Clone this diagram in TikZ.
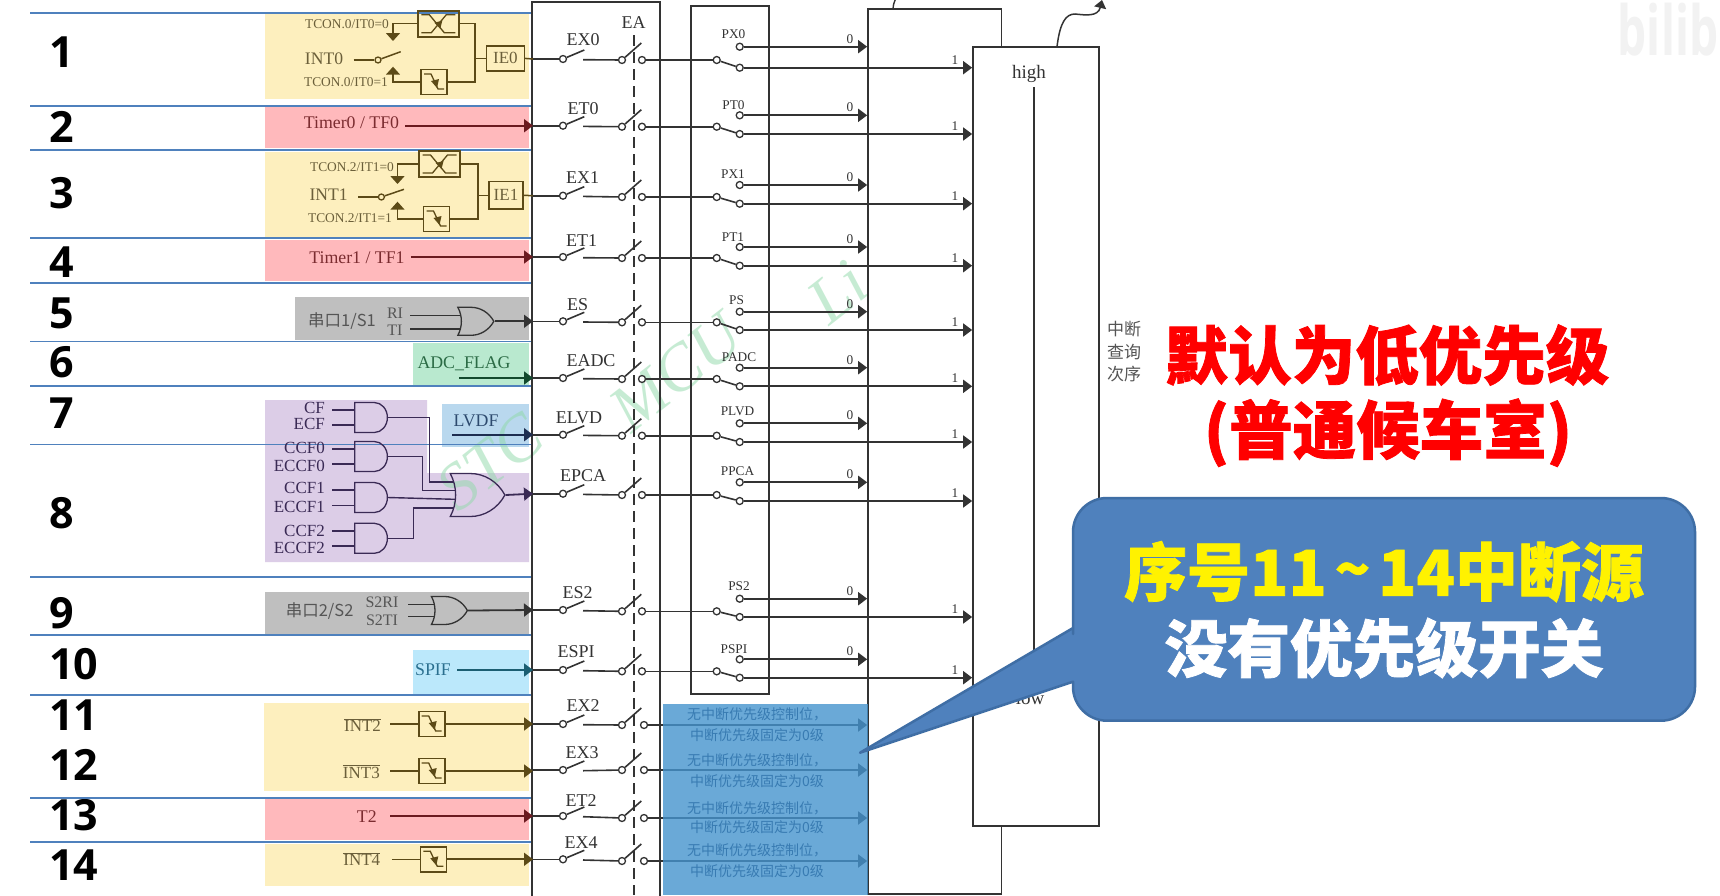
\documentclass[tikz,border=0pt]{standalone}
\usepackage{fontspec}
\setmainfont{Liberation Serif}
\newfontfamily\cjk[BoldFeatures={FakeBold=1.2}]{Noto Sans CJK SC}
\newfontfamily\numfont{Open Sans}
\usetikzlibrary{arrows.meta,shapes.gates.logic.US}
\definecolor{yellowpanel}{HTML}{FDEFBE}
\definecolor{pinkpanel}{HTML}{FFB9BC}
\definecolor{graypanel}{HTML}{BFBFBF}
\definecolor{greenpanel}{HTML}{B9E9CF}
\definecolor{bluepanel}{HTML}{B9D8EE}
\definecolor{purplepanel}{HTML}{DCCDE7}
\definecolor{cyanpanel}{HTML}{BBE8FB}
\definecolor{rowline}{HTML}{4F81BD}
\definecolor{boxline}{HTML}{333333}
\definecolor{olivewire}{HTML}{5C4A17}
\definecolor{olivetext}{HTML}{6B5F3A}
\definecolor{redwire}{HTML}{6B1A1F}
\definecolor{redtext}{HTML}{7B2C30}
\definecolor{greenwire}{HTML}{12492D}
\definecolor{greentext}{HTML}{2B6B45}
\definecolor{navywire}{HTML}{1D2D50}
\definecolor{navytext}{HTML}{2D4A6E}
\definecolor{tealwire}{HTML}{1B5E72}
\definecolor{tealtext}{HTML}{2A6F8F}
\definecolor{purplewire}{HTML}{3A2A55}
\definecolor{graytext}{HTML}{555555}
\definecolor{blockfill}{HTML}{4594CE}
\definecolor{blocktext}{HTML}{387BB2}
\definecolor{calloutfill}{HTML}{4F81BD}
\definecolor{calloutline}{HTML}{3F6EA5}
\definecolor{stamp}{HTML}{8FD9A8}
\definecolor{sitemark}{HTML}{F2F2F2}
\tikzset{
  rownum/.style={anchor=base west,inner sep=0,font=\numfont\bfseries\fontsize{43}{43}\selectfont},
  bigbox/.style={draw=boxline,line width=1.7pt,inner sep=0,fill=white},
  wire/.style={draw=boxline,line width=1.6pt},
  arr/.style={line width=1.8pt,-{Triangle[length=9pt,width=13pt]}},
  swpin/.style={circle,draw=boxline,line width=1.3pt,fill=white,inner sep=0,minimum size=7pt},
  elabel/.style={inner sep=0,text=boxline,font=\fontsize{18}{18}\selectfont},
  plabel/.style={inner sep=0,text=boxline,font=\fontsize{13.3}{14}\selectfont},
  paneltext/.style={inner sep=6pt,font=\fontsize{17.8}{18}\selectfont},
  tcontext/.style={inner sep=0,text=olivetext,font=\fontsize{13.4}{14}\selectfont},
  flagbox/.style={draw=olivewire,line width=1.6pt,inner sep=0,text=olivetext,font=\fontsize{17}{18}\selectfont},
  falledge/.style={draw=olivewire,line width=1.6pt,inner sep=0,minimum width=26pt,minimum height=25pt,
    path picture={\draw[olivewire,line width=1.3pt,shift={(path picture bounding box.center)}]
      (-10,-8) -- (-3,-8) -- (4,7) -- (10,7);
      \fill[olivewire,shift={(path picture bounding box.center)}] (-3,-1) -- (5,-3) -- (3,6) -- cycle;}},
  bothedge/.style={draw=olivewire,line width=1.6pt,inner sep=0,minimum width=41pt,minimum height=26pt,
    path picture={\draw[olivewire,line width=1.3pt,shift={(path picture bounding box.center)}]
      (-17,-9) -- (-9,-9) -- (6,9) -- (17,9) (-17,9) -- (-7,9) -- (8,-9) -- (17,-9);
      \fill[olivewire,shift={(path picture bounding box.center)}] (-4,-1) -- (4,-3) -- (2,5) -- cycle;}},
  gatestyle/.style={draw=#1,line width=1.3pt,inner sep=0,logic gate inputs=nn,transform shape},
  gatelabel/.style={anchor=east,inner xsep=7pt,inner ysep=0,text=purplewire,font=\fontsize{17}{18}\selectfont},
  watermark/.style={rotate=38,inner sep=0,text=stamp,text opacity=.5,font=\itshape\fontsize{66}{66}\selectfont},
  blocktxt/.style={inner sep=0,text=blocktext,font=\cjk\fontsize{14}{14}\selectfont},
  bigred/.style={inner sep=0,text=red,font=\cjk\bfseries\fontsize{63.5}{64}\selectfont},
  callout/.style={draw=calloutline,fill=calloutfill,line width=2.5pt,line join=round}
}

\begin{document}
\begin{tikzpicture}[x=1pt,y=-1pt]
	\clip (0,0) rectangle (1720,895);
	\fill[white] (0,0) rectangle (1720,895);
	\node[inner sep=0,yscale=1.5,transform shape,text=sitemark,font=\numfont\bfseries\fontsize{46}{46}\selectfont] (sitelogo) at (1668,30) {bilib};
	% coloured panels
	\fill[yellowpanel] (265,14) rectangle (529,99.3);
	\fill[pinkpanel] (265,107) rectangle (529,148);
	\fill[yellowpanel] (265,152) rectangle (529,237);
	\fill[pinkpanel] (265,240) rectangle (529,281);
	\fill[graypanel] (295,297) rectangle (529,340);
	\fill[greenpanel] (412.5,343) rectangle (529,385);
	\fill[bluepanel] (442,404) rectangle (529,447);
	\fill[purplepanel] (265,400) -- (427,400) -- (427,473) -- (529,473) -- (529,562) -- (265,562) -- cycle;
	\fill[graypanel] (265,592) rectangle (529,634);
	\fill[cyanpanel] (412.5,650) rectangle (529,694);
	\fill[yellowpanel] (264,703) rectangle (529,791);
	\fill[pinkpanel] (265,799) rectangle (529,840);
	\fill[yellowpanel] (265,844) rectangle (529,886);
	\node[watermark] (stampa) at (490,462) {STC};
	\node[watermark] (stampb) at (676,372) {MCU};
	\node[watermark] (stampc) at (838,292) {Li};
	% row numbers and rules
	\foreach \lab/\y in {1/67,2/142.7,3/208.3,4/277,5/328.3,6/377,7/428.3,8/528.3,9/628.3,10/679.3,11/730,12/780,13/830,14/880.3}
		\node[rownum] (num\lab) at (49,\y) {\lab};
	\foreach \y in {12.7,106,150,238,282.7,341.3,385.7,444.3,577,635,695,797.7,842}
		\draw[rowline,line width=1.6pt] (30,\y) -- (531,\y);
	% big boxes
	\node[bigbox,fill=none,minimum width=127.7pt,minimum height=920pt] (enablebox) at (596,462) {};
	\node[bigbox,fill=none,minimum width=78pt,minimum height=688pt] (prioritybox) at (730,350) {};
	\node[bigbox,minimum width=133.4pt,minimum height=885pt] (lowbox) at (934.7,451.5) {};
	\node[bigbox,minimum width=126pt,minimum height=779.3pt] (highbox) at (1036,436.3) {};
	\node[inner sep=0,text=boxline,font=\fontsize{19}{19}\selectfont] (highlab) at (1029,74) {high};
	\node[inner sep=0,text=boxline,font=\fontsize{19}{19}\selectfont] (lowlab) at (1030,698) {low};
	\coordinate (orderup) at (1034,87);
	\coordinate (orderdown) at (1034,685);
	\draw[boxline,line width=1.4pt] (orderup) -- (orderdown);
	\coordinate (lowout) at (893,9);
	\coordinate (lowtop) at (896,-2);
	\draw[boxline,line width=1.4pt] (lowout) .. controls (893.5,4) .. (lowtop);
	\coordinate (highout) at (1057,46.7);
	\coordinate (highend) at (1102,0);
	\draw[boxline,line width=1.5pt,-{Triangle[length=8pt,width=12pt]}] (highout) .. controls (1060,22) and (1066,14) .. (1075,14)
		.. controls (1085,15) and (1098,17) .. (highend);
	\node[elabel] (ealab) at (633.7,22.7) {EA};
	\coordinate (eatop) at (634,35);
	\coordinate (eabottom) at (634,895);
	\draw[boxline,line width=1.3pt,dash pattern=on 11pt off 6pt] (eatop) -- (eabottom);
	% switch rows with a priority switch
	\foreach \r/\ename/\xe/\ye/\pname/\xp/\yp/\yin/\yea/\ylow/\yup in {
		1/EX0/583/39.5/PX0/733.5/34/59/60/67.7/46.7,
		2/ET0/583/108.2/PT0/733.5/105/125.7/126.7/134/115.3,
		3/EX1/582.5/177.5/PX1/733/174/195.7/197/203.7/185,
		4/ET1/581.5/240.2/PT1/733/236.7/257/258/265.7/247,
		5/ES/577.5/304.8/PS/736.5/300.3/321.3/322.3/330/311.7,
		6/EADC/591/360.5/PADC/739/357/378/379/386.3/367.7,
		7/ELVD/579/417.5/PLVD/737.5/411/434.7/435.7/442/423.3,
		8/EPCA/583/475.8/PPCA/737.5/471/493.7/495/501/482.3,
		9/ES2/577.5/593/PS2/739/586/610/611.3/617/598.7,
		10/ESPI/576/651.5/PSPI/734/648.7/670/671.3/677.7/659.3}
	{
		\coordinate (in\r) at (533,\yin);
		\node[swpin] (a\r) at (563,\yin) {};
		\node[elabel] (en\r) at (\xe,\ye) {\ename};
		\coordinate (at\r) at (584.3,\yin-9);
		\coordinate (b\r) at (583,\yin+.7);
		\node[swpin] (c\r) at (622,\yea) {};
		\coordinate (ct\r) at (641.3,\yea-17);
		\node[swpin] (d\r) at (642,\yea) {};
		\node[swpin] (e\r) at (716.7,\yea) {};
		\node[swpin] (f\r) at (739.7,\ylow) {};
		\node[swpin] (g\r) at (739.7,\yup) {};
		\node[plabel] (pn\r) at (\xp,\yp) {\pname};
		\node[plabel] (zero\r) at (850,\yup-8) {0};
		\node[plabel] (one\r) at (955,\ylow-8) {1};
		\draw[wire] (in\r) -- (a\r);
		\draw[wire] (a\r) -- (at\r);
		\draw[wire] (b\r) -- (c\r);
		\draw[wire] (c\r) -- (ct\r);
		\draw[wire] (d\r) -- (e\r);
		\draw[wire] (e\r) -- (f\r);
		\draw[wire,arr] (g\r) -- (g\r -| lowbox.west);
		\draw[wire,arr] (f\r) -- (f\r -| highbox.west);
	}
	% switch rows without a priority switch
	\foreach \r/\ename/\xe/\ye/\yin/\yea in {11/EX2/583/705.5/724/725,12/EX3/582/752.2/770/770,13/ET2/581/800.2/816/818,14/EX4/581/842.5/859.3/861}
	{
		\coordinate (in\r) at (533,\yin);
		\node[swpin] (a\r) at (563,\yin) {};
		\node[elabel] (en\r) at (\xe,\ye) {\ename};
		\coordinate (at\r) at (584.3,\yin-9);
		\coordinate (b\r) at (583,\yin+.7);
		\node[swpin] (c\r) at (622,\yea) {};
		\coordinate (ct\r) at (641.3,\yea-17);
		\node[swpin] (d\r) at (644,\yea) {};
		\draw[wire] (in\r) -- (a\r);
		\draw[wire] (a\r) -- (at\r);
		\draw[wire] (b\r) -- (c\r);
		\draw[wire] (c\r) -- (ct\r);
		\draw[wire,arr] (d\r) -- (d\r -| lowbox.west);
	}
	% blue block over the last four rows
	\fill[blockfill,fill opacity=.8] (662.7,704.3) rectangle (868,895);
	\foreach \n/\ya/\yb in {1/714/735,2/760/780.7,3/808/827,4/850.7/871}
	{
		\node[blocktxt] (nocfg\n) at (757,\ya) {无中断优先级控制位，};
		\node[blocktxt] (fixed\n) at (757,\yb) {中断优先级固定为0级};
	}
	% INT0
	\node[tcontext] (tcona) at (347,24) {TCON.0/IT0=0};
	\node[tcontext] (tconb) at (346,82) {TCON.0/IT0=1};
	\node[inner sep=0,text=olivetext,font=\fontsize{17.6}{18}\selectfont] (intz) at (324,59) {INT0};
	\node[bothedge] (bothz) at (438.3,23.7) {};
	\node[falledge] (fallz) at (434,82) {};
	\node[flagbox,minimum width=38pt,minimum height=24.7pt] (iez) at (505.4,58.4) {IE0};
	\coordinate (intzin) at (353.6,60);
	\node[circle,draw=olivewire,line width=1.3pt,inner sep=0,minimum size=6pt] (swz) at (378,60) {};
	\coordinate (swzt) at (400.7,51.7);
	\coordinate (joinz) at (475,58.4);
	\coordinate (tipza) at (393,41);
	\coordinate (tipzb) at (393,66.7);
	\draw[olivewire,line width=1.5pt] (intzin) -- (swz);
	\draw[olivewire,line width=1.5pt] (swz) -- (swzt);
	\draw[olivewire,line width=1.5pt,-{Triangle[length=8pt,width=14pt]}] (bothz.west) -| (tipza);
	\draw[olivewire,line width=1.5pt,-{Triangle[length=8pt,width=14pt]}] (fallz.west) -| (tipzb);
	\draw[olivewire,line width=1.5pt] (bothz.east) -| (joinz);
	\draw[olivewire,line width=1.5pt] (fallz.east) -| (joinz);
	\draw[olivewire,line width=1.5pt] (joinz) -- (iez.west);
	\draw[olivewire,line width=1.5pt] (iez.east) -- (in1);
	% INT1
	\node[tcontext] (tconc) at (352,166.7) {TCON.2/IT1=0};
	\node[tcontext] (tcond) at (350,218.3) {TCON.2/IT1=1};
	\node[inner sep=0,text=olivetext,font=\fontsize{17.6}{18}\selectfont] (inta) at (328.6,194.3) {INT1};
	\node[bothedge] (botha) at (439.5,164) {};
	\node[falledge] (falla) at (436.5,219) {};
	\node[flagbox,minimum width=34pt,minimum height=27.3pt] (iea) at (506,195.3) {IE1};
	\coordinate (intain) at (358,197);
	\node[circle,draw=olivewire,line width=1.3pt,inner sep=0,minimum size=6pt] (swa) at (381.4,197) {};
	\coordinate (swat) at (404,189.3);
	\coordinate (joina) at (478,195.3);
	\coordinate (tipaa) at (397.5,184);
	\coordinate (tipab) at (397.5,201.7);
	\draw[olivewire,line width=1.5pt] (intain) -- (swa);
	\draw[olivewire,line width=1.5pt] (swa) -- (swat);
	\draw[olivewire,line width=1.5pt,-{Triangle[length=8pt,width=14pt]}] (botha.west) -| (tipaa);
	\draw[olivewire,line width=1.5pt,-{Triangle[length=8pt,width=14pt]}] (falla.west) -| (tipab);
	\draw[olivewire,line width=1.5pt] (botha.east) -| (joina);
	\draw[olivewire,line width=1.5pt] (falla.east) -| (joina);
	\draw[olivewire,line width=1.5pt] (joina) -- (iea.west);
	\draw[olivewire,line width=1.5pt] (iea.east) -- (in3);
	% timers
	\node[paneltext,text=redtext] (timerz) at (351.5,122.7) {Timer0 / TF0};
	\draw[redwire,arr] (timerz.east |- in2) -- (in2);
	\node[paneltext,text=redtext] (timera) at (357,258) {Timer1 / TF1};
	\draw[redwire,arr] (timera.east |- in4) -- (in4);
	\node[paneltext,text=redtext] (timerb) at (366.8,816.7) {T2};
	\coordinate (timerbout) at (390,816);
	\draw[redwire,arr] (timerbout) -- (in13);
	% serial ports
	\node[inner sep=0,text=graytext,font=\cjk\fontsize{16.5}{17}\selectfont] (uartz) at (342,320.7) {串口1/S1};
	\node[inner sep=0,text=graytext,font=\fontsize{16}{16}\selectfont] (ri) at (395,313) {RI};
	\node[inner sep=0,text=graytext,font=\fontsize{16}{16}\selectfont] (ti) at (395,330.7) {TI};
	\coordinate (riout) at (410,315.7);
	\coordinate (tiout) at (410,329);
	\coordinate (riend) at (465,315.7);
	\coordinate (tiend) at (465,329);
	\draw[boxline,line width=1.5pt] (riout) -- (riend);
	\draw[boxline,line width=1.5pt] (tiout) -- (tiend);
	\node[or gate US,gatestyle=boxline,fill=graypanel,xscale=.94,minimum width=30pt,minimum height=28pt,logic gate input sep=8.75pt] (orz) at (473.2,321.3) {};
	\draw[boxline,arr] (orz.output) -- (in5);
	\node[inner sep=0,text=graytext,font=\cjk\fontsize{16.5}{17}\selectfont] (uarta) at (319.6,610.7) {串口2/S2};
	\node[inner sep=0,text=graytext,font=\fontsize{16}{16}\selectfont] (sri) at (382,602.7) {S2RI};
	\node[inner sep=0,text=graytext,font=\fontsize{16}{16}\selectfont] (sti) at (382,620.7) {S2TI};
	\coordinate (sriout) at (408,604.7);
	\coordinate (stiout) at (408,616.7);
	\coordinate (sriend) at (440,604.7);
	\coordinate (stiend) at (440,616.7);
	\draw[boxline,line width=1.5pt] (sriout) -- (sriend);
	\draw[boxline,line width=1.5pt] (stiout) -- (stiend);
	\node[or gate US,gatestyle=boxline,fill=graypanel,xscale=.94,minimum width=30pt,minimum height=28pt,logic gate input sep=9pt] (ora) at (446.8,610.5) {};
	\draw[boxline,arr] (ora.output) -- (in9);
	% single flags
	\node[paneltext,inner sep=0,text=greentext] (adc) at (464,364) {ADC\_FLAG};
	\coordinate (adcout) at (459,378);
	\draw[greenwire,arr] (adcout) -- (in6);
	\node[paneltext,inner sep=0,text=navytext] (lvdf) at (476,421) {LVDF};
	\coordinate (lvdfout) at (452,434.7);
	\draw[navywire,arr] (lvdfout) -- (in7);
	\node[paneltext,text=tealtext] (spif) at (433,669.3) {SPIF};
	\draw[tealwire,arr] (spif.east |- in10) -- (in10);
	% PCA gates
	\foreach \g/\y in {b/417.5,c/456.5,d/497.5,e/538.3}
		\node[and gate US,gatestyle=purplewire,xscale=.87,minimum width=25pt,minimum height=25pt,logic gate input sep=10pt] (and\g) at (370,\y) {};
	\foreach \g/\la/\tx/\ya/\lb/\tb/\yb/\wa/\wb in {b/cf/CF/408.3/ecf/ECF/424/410/425,c/ccfz/CCF0/448.3/eccfz/ECCF0/465.7/449/464,d/ccfa/CCF1/488.3/eccfa/ECCF1/506.7/490/505.5,e/ccfb/CCF2/530.7/eccfb/ECCF2/548.3/531/546}
	{
		\node[gatelabel] (\la) at (332,\ya) {\tx};
		\node[gatelabel] (\lb) at (332,\yb) {\tb};
		\coordinate (\la in) at (and\g.west |- 0,\wa);
		\coordinate (\lb in) at (and\g.west |- 0,\wb);
		\draw[purplewire,line width=1.5pt] (\la.east |- \la in) -- (\la in);
		\draw[purplewire,line width=1.5pt] (\lb.east |- \lb in) -- (\lb in);
	}
	\node[or gate US,gatestyle=purplewire,logic gate inputs=nnnn,xscale=.93,minimum width=40pt,minimum height=43pt,logic gate input sep=5pt] (orp) at (473.6,495) {};
	\draw[purplewire,line width=1.4pt] (andb.output) -- ++(41.6,0) |- (orp.input 1);
	\draw[purplewire,line width=1.4pt] (andc.output) -- ++(34.6,0) |- (orp.input 2);
	\draw[purplewire,line width=1.4pt] (andd.output) -- (orp.input 3);
	\draw[purplewire,line width=1.4pt] (ande.output) -- ++(25.4,0) |- (orp.input 4);
	\draw[purplewire,arr] (orp.output) -- (in8);
	% external interrupts
	\foreach \n/\name/\x/\y/\tx/\ty/\bx/\from in {ib/INT2/362.5/725/431.7/724/in11/390,ic/INT3/361.4/771.7/431.7/771/in12/390,id/INT4/361.8/859.3/433.3/859.3/in14/391.8}
	{
		\node[inner sep=0,text=olivetext,font=\fontsize{17}{18}\selectfont] (\n) at (\x,\y) {$\overline{\mbox{\name}}$};
		\node[falledge] (\n fall) at (\tx,\ty) {};
		\coordinate (\n out) at (\from,\ty);
		\draw[olivewire,line width=1.5pt] (\n out) -- (\n fall.west);
		\draw[olivewire,arr] (\n fall.east) -- (\n fall.east -| \bx);
	}
	% right hand texts
	\node[inner sep=0,text=graytext,align=center,font=\cjk\fontsize{17}{22.5}\selectfont] (orderlab) at (1124,352) {中断\\查询\\次序};
	\node[bigred] (redone) at (1387,355) {默认为低优先级};
	\node[bigred] (redtwo) at (1388,432.7) {(普通候车室)};
	\draw[callout] (1073,628) -- (860,752.7) -- (1073,681.7) -- (1073,690) [rounded corners=34pt] -- (1073,720.7) -- (1695,720.7) -- (1695,498) -- (1073,498) -- (1073,600) [sharp corners] -- (1073,628) -- cycle;
	\node[inner sep=0,text=yellow,font=\cjk\bfseries\fontsize{63}{63}\selectfont] (calla) at (1384,571.7) {序号11\hspace{8pt}\raisebox{.08em}{\fontsize{58}{58}\selectfont\textasciitilde}\hspace{8pt}14中断源};
	\node[inner sep=0,text=white,font=\cjk\bfseries\fontsize{62.7}{63}\selectfont] (callb) at (1384,648) {没有优先级开关};
\end{tikzpicture}
\end{document}
